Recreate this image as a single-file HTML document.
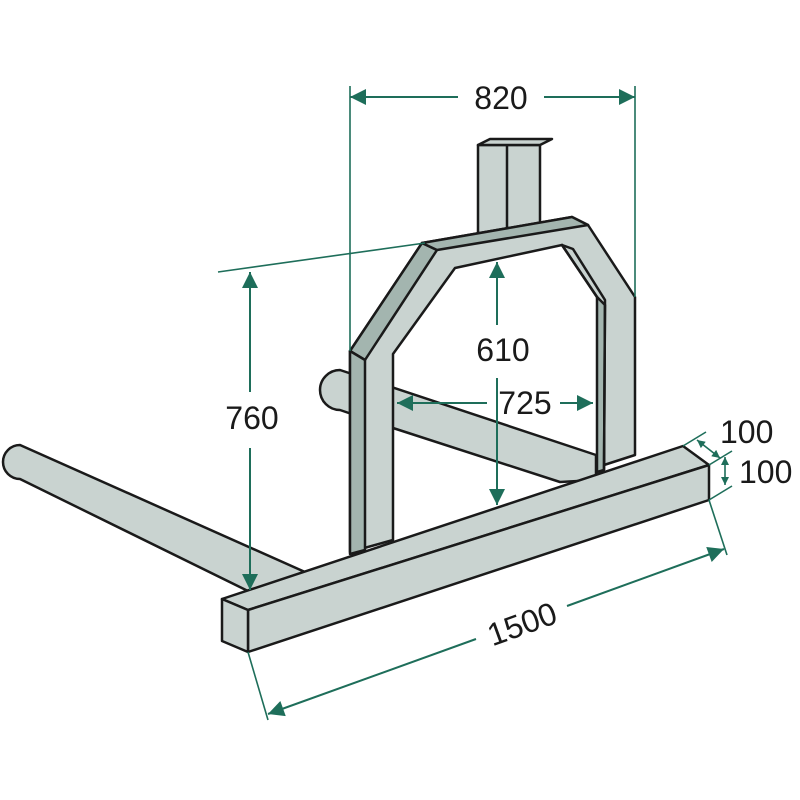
<!DOCTYPE html>
<html><head><style>body{margin:0;background:#fff}svg{display:block}</style></head><body>
<svg width="800" height="800" viewBox="0 0 800 800" xmlns="http://www.w3.org/2000/svg" font-family="Liberation Sans, sans-serif">
<defs>
<marker id="b" viewBox="0 0 10 10" refX="10" refY="5" markerWidth="24" markerHeight="16" orient="auto-start-reverse" markerUnits="userSpaceOnUse"><path d="M0,0 L10,5 L0,10 z" fill="#1e6e5a"/></marker>
<marker id="c" viewBox="0 0 10 10" refX="10" refY="5" markerWidth="10" markerHeight="8" orient="auto-start-reverse" markerUnits="userSpaceOnUse"><path d="M0,0 L10,5 L0,10 z" fill="#1e6e5a"/></marker>
</defs>
<g stroke="#1a1a1a" stroke-width="2.5" stroke-linejoin="round" fill="#c9d3d0">
<rect x="478" y="145" width="62" height="95"/>
<line x1="507" y1="145" x2="507" y2="240"/>
<polygon points="478,145 490,139 552,139 540,145"/>
<path d="M20,445 L305,572 L250,592 L20,479 A17,17 0 0 1 20,445 z"/>
<path d="M340,370 L596,455 L596,480 L560,482 L393,428 L340,410 A20,20 0 0 1 340,370 z"/>
<path d="M350,351 L422,243 L572,217 L588,225 L635,297 L635,455 L604,465 L604,305 L597,297 L562,245 L455,268 L393,354 L393,540 L350,552 z"/>
<polygon points="350,351 422,243 437,250 365,360" fill="#a3b5af"/>
<polygon points="422,243 572,217 588,225 437,250" fill="#a3b5af"/>
<polygon points="350,351 365,360 365,550 350,554" fill="#a3b5af"/>
<polygon points="562,245 597,297 605,305 604,470 597,472 597,297" fill="#a3b5af"/>
<path d="M562,245 L573,249 L605,300 L604,470" fill="none"/>
<polygon points="222,599 683,446 709,465 248,610"/>
<polygon points="248,610 709,465 709,500 248,652"/>
<polygon points="222,599 248,610 248,652 222,641"/>
</g>
<g stroke="#1e6e5a" stroke-width="1.6" fill="none">
<line x1="350" y1="86" x2="350" y2="351"/>
<line x1="635" y1="86" x2="635" y2="297"/>
<line x1="350" y1="97" x2="458" y2="97" marker-start="url(#b)" stroke-width="2"/>
<line x1="544" y1="97" x2="635" y2="97" marker-end="url(#b)" stroke-width="2"/>
<line x1="218" y1="272" x2="425" y2="243"/>
<line x1="250" y1="272" x2="250" y2="392" marker-start="url(#b)" stroke-width="2"/>
<line x1="250" y1="448" x2="250" y2="590" marker-end="url(#b)" stroke-width="2"/>
<line x1="497" y1="262" x2="497" y2="325" marker-start="url(#b)" stroke-width="2"/>
<line x1="497" y1="378" x2="497" y2="505" marker-end="url(#b)" stroke-width="2"/>
<line x1="397" y1="403" x2="487" y2="403" marker-start="url(#b)" stroke-width="2"/>
<line x1="560" y1="403" x2="593" y2="403" marker-end="url(#b)" stroke-width="2"/>
<line x1="248" y1="652" x2="268" y2="720"/>
<line x1="709" y1="500" x2="727" y2="555"/>
<line x1="268" y1="714" x2="476" y2="639" marker-start="url(#b)" stroke-width="2"/>
<line x1="567" y1="606" x2="724" y2="549" marker-end="url(#b)" stroke-width="2"/>
<line x1="683" y1="446" x2="706" y2="432"/>
<line x1="709" y1="465" x2="732" y2="451"/>
<line x1="709" y1="500" x2="732" y2="486"/>
<line x1="697" y1="440" x2="720" y2="458" marker-start="url(#c)" marker-end="url(#c)"/>
<line x1="725" y1="457" x2="725" y2="485" marker-start="url(#c)" marker-end="url(#c)"/>
</g>
<g fill="#1a1a1a" font-size="32">
<text x="501" y="109" text-anchor="middle">820</text>
<text x="252" y="429" text-anchor="middle">760</text>
<text x="503" y="361" text-anchor="middle">610</text>
<text x="525" y="414" text-anchor="middle">725</text>
<text x="522" y="635" text-anchor="middle" transform="rotate(-20 522 624)">1500</text>
<text x="720" y="443">100</text>
<text x="739" y="483">100</text>
</g>
</svg>
</body></html>
